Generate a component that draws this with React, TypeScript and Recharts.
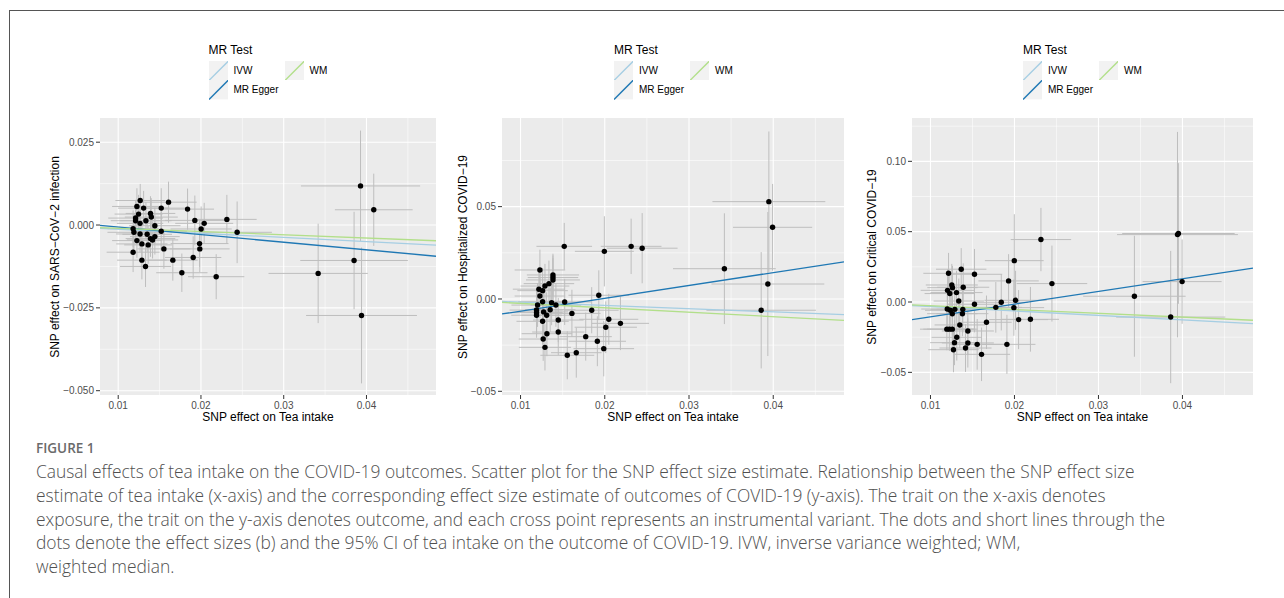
import React from 'react';
import { ScatterChart, Scatter, XAxis, YAxis, CartesianGrid, ErrorBar, ReferenceLine } from 'recharts';

// ---------- DATA ----------
const xTicks = [0.01, 0.02, 0.03, 0.04];
const xTickLabels = ['0.01', '0.02', '0.03', '0.04'];
const xMinor = [0.015, 0.025, 0.035, 0.045];
const xDomain = [0.0078, 0.0484];

// Panel 1: SARS-CoV-2 infection
const p1x = [0.0118, 0.01266, 0.01226, 0.01307, 0.01246, 0.0121, 0.0121, 0.01264, 0.01335, 0.0139, 0.014, 0.01443, 0.0152, 0.01608, 0.01838, 0.01926, 0.02039, 0.02002, 0.01983, 0.01986, 0.01906, 0.02313, 0.02437, 0.02184, 0.01769, 0.0166, 0.01552, 0.0152, 0.0139, 0.01415, 0.01443, 0.01362, 0.0135, 0.01286, 0.01264, 0.01226, 0.0119, 0.0118, 0.01286, 0.0133, 0.03416, 0.03928, 0.04088, 0.0385, 0.0394];
const p1y = [-0.0082, 0.0074, 0.0056, 0.0051, 0.0033, 0.0021, 0.0013, 0.0005, 0.0013, 0.0035, 0.0024, -0.0002, 0.0051, 0.0069, 0.0048, 0.0014, 0.0005, -0.0012, -0.0056, -0.0072, -0.0098, 0.0017, -0.0022, -0.0156, -0.0144, -0.0106, -0.0072, -0.0019, -0.0041, -0.0045, -0.0035, -0.006, -0.0028, -0.0057, -0.0027, -0.0047, -0.0022, -0.0011, -0.0106, -0.0125, -0.0146, 0.0118, 0.0046, -0.0107, -0.0273];
const p1xe = [0.0032, 0.003, 0.003, 0.0031, 0.0029, 0.0033, 0.003, 0.0028, 0.0031, 0.003, 0.0032, 0.0031, 0.0033, 0.0034, 0.0032, 0.0036, 0.0035, 0.0037, 0.0035, 0.0036, 0.0034, 0.0036, 0.0042, 0.0034, 0.0031, 0.003, 0.0032, 0.0031, 0.003, 0.0031, 0.003, 0.0029, 0.003, 0.0031, 0.0029, 0.003, 0.0032, 0.0031, 0.003, 0.0031, 0.006, 0.0072, 0.0047, 0.0065, 0.0067];
const p1ye = [0.006, 0.005, 0.0055, 0.0052, 0.0058, 0.0055, 0.0052, 0.0054, 0.0056, 0.0052, 0.0057, 0.0055, 0.006, 0.0062, 0.0062, 0.0075, 0.0062, 0.0068, 0.007, 0.007, 0.0064, 0.0074, 0.0093, 0.0068, 0.0058, 0.0062, 0.006, 0.0058, 0.0055, 0.0056, 0.0054, 0.0057, 0.0053, 0.0055, 0.0054, 0.0052, 0.0056, 0.0055, 0.0058, 0.0062, 0.015, 0.0167, 0.0109, 0.0147, 0.0205];
const p1Ticks = [-0.05, -0.025, 0, 0.025];
const p1TickLabels = ['\u22120.050', '\u22120.025', '0.000', '0.025'];
const p1Minor = [-0.0375, -0.0125, 0.0125];
const p1Domain = [-0.0513, 0.0323];
const p1Slopes = [-0.125, -0.2296, -0.098]; // IVW, MR Egger, WM
const p1Intercepts = [0, 0.00169, 0];

// Panel 2: Hospitalized COVID-19
const p2x = [0.01519, 0.01995, 0.02313, 0.02444, 0.0123, 0.01385, 0.01385, 0.01385, 0.01337, 0.0129, 0.01218, 0.01262, 0.0123, 0.01262, 0.01202, 0.0119, 0.0119, 0.0119, 0.01274, 0.0131, 0.01262, 0.01352, 0.01369, 0.0142, 0.01524, 0.01448, 0.01448, 0.01313, 0.01269, 0.0129, 0.01555, 0.01662, 0.0161, 0.01774, 0.01845, 0.01912, 0.01929, 0.01988, 0.02012, 0.02048, 0.02186, 0.0342, 0.03948, 0.03992, 0.03936, 0.03857];
const p2y = [0.0285, 0.0258, 0.0285, 0.0275, 0.0157, 0.013, 0.0116, 0.0103, 0.0083, 0.007, 0.0053, 0.0045, 0.0016, -0.0015, -0.0033, -0.006, -0.0074, -0.0088, -0.007, -0.0088, -0.0121, -0.0058, -0.002, -0.0033, -0.0016, -0.0114, -0.0179, -0.0188, -0.0217, -0.0262, -0.0305, -0.0291, -0.0078, -0.0204, -0.0061, -0.0229, 0.002, -0.0269, -0.0153, -0.011, -0.0132, 0.0164, 0.0527, 0.0388, 0.0081, -0.0061];
const p2xe = [0.0033, 0.0035, 0.0036, 0.0042, 0.003, 0.0031, 0.003, 0.0032, 0.003, 0.0029, 0.0031, 0.003, 0.003, 0.0029, 0.0031, 0.0032, 0.0031, 0.003, 0.0029, 0.003, 0.0031, 0.003, 0.0031, 0.003, 0.0032, 0.003, 0.0031, 0.003, 0.0029, 0.0031, 0.0032, 0.003, 0.0034, 0.0031, 0.0032, 0.0034, 0.0036, 0.0036, 0.0037, 0.0035, 0.0034, 0.0061, 0.0067, 0.0047, 0.0067, 0.0065];
const p2ye = [0.0127, 0.019, 0.015, 0.019, 0.011, 0.0115, 0.012, 0.0118, 0.0125, 0.012, 0.0118, 0.0122, 0.012, 0.0125, 0.0118, 0.012, 0.0125, 0.0122, 0.0118, 0.0124, 0.0126, 0.012, 0.0122, 0.0118, 0.0125, 0.012, 0.0125, 0.0122, 0.0118, 0.0125, 0.013, 0.0135, 0.0128, 0.013, 0.0125, 0.0135, 0.0135, 0.015, 0.014, 0.0138, 0.0145, 0.03, 0.038, 0.0235, 0.039, 0.0315];
const p2Ticks = [-0.05, 0, 0.05];
const p2TickLabels = ['\u22120.05', '0.00', '0.05'];
const p2Minor = [-0.025, 0.025, 0.075];
const p2Domain = [-0.052, 0.098];
const p2Slopes = [-0.175, 0.695, -0.239];
const p2Intercepts = [0, -0.01353, 0];

// Panel 3: Critical COVID-19
const p3x = [0.02315, 0.01998, 0.0193, 0.02446, 0.02013, 0.01843, 0.01993, 0.01778, 0.02049, 0.0219, 0.01667, 0.0191, 0.01608, 0.01524, 0.01524, 0.01366, 0.0139, 0.01215, 0.01254, 0.01262, 0.01203, 0.0123, 0.0131, 0.01337, 0.012, 0.01235, 0.0129, 0.01385, 0.0126, 0.0138, 0.01349, 0.01195, 0.01225, 0.0126, 0.01445, 0.01313, 0.01286, 0.01445, 0.01556, 0.01274, 0.01417, 0.03428, 0.03941, 0.03952, 0.03996, 0.0386];
const p3y = [0.0444, 0.0294, 0.015, 0.0131, 0.0012, -0.0002, -0.004, -0.0038, -0.0125, -0.0123, -0.0144, -0.0301, -0.0372, 0.0197, -0.0016, 0.0233, 0.0105, 0.0204, 0.0121, 0.0102, 0.0083, 0.006, 0.0067, 0.0007, -0.005, -0.0059, -0.0052, -0.0052, -0.0083, -0.0083, -0.0163, -0.0193, -0.0193, -0.0193, -0.0206, -0.0251, -0.0289, -0.0291, -0.0301, -0.0339, -0.0327, 0.0041, 0.0479, 0.0487, 0.0145, -0.0107];
const p3xe = [0.0036, 0.0035, 0.0036, 0.0042, 0.0037, 0.0032, 0.0036, 0.0031, 0.0035, 0.0034, 0.003, 0.0034, 0.0034, 0.0033, 0.0032, 0.003, 0.0031, 0.003, 0.0031, 0.003, 0.0032, 0.003, 0.0031, 0.003, 0.0031, 0.003, 0.0029, 0.0031, 0.003, 0.0031, 0.003, 0.0032, 0.0031, 0.003, 0.0031, 0.003, 0.0029, 0.0031, 0.0032, 0.003, 0.0031, 0.0061, 0.0072, 0.0067, 0.0047, 0.0065];
const p3ye = [0.0225, 0.033, 0.019, 0.027, 0.021, 0.02, 0.02, 0.018, 0.021, 0.023, 0.019, 0.021, 0.019, 0.018, 0.02, 0.015, 0.017, 0.0145, 0.015, 0.0155, 0.015, 0.016, 0.0155, 0.016, 0.015, 0.0155, 0.016, 0.0165, 0.0155, 0.016, 0.0165, 0.015, 0.0155, 0.016, 0.017, 0.0165, 0.016, 0.0175, 0.018, 0.016, 0.017, 0.043, 0.073, 0.05, 0.03, 0.047];
const p3Ticks = [-0.05, 0, 0.05, 0.1];
const p3TickLabels = ['\u22120.05', '0.00', '0.05', '0.10'];
const p3Minor = [-0.025, 0.025, 0.075, 0.125];
const p3Domain = [-0.0661, 0.1308];
const p3Slopes = [-0.317, 0.903, -0.268];
const p3Intercepts = [0, -0.01956, 0];

const methods = ['IVW', 'MR Egger', 'WM'];
const methodColors = ['#A6CEE3', '#1F78B4', '#B2DF8A'];

const yTitles = [
  'SNP effect on SARS\u2212CoV\u22122 infection',
  'SNP effect on Hospitalized COVID\u221219',
  'SNP effect on Critical COVID\u221219',
];
const xTitle = 'SNP effect on Tea intake';

const captionHead = 'FIGURE 1';
const captionLines = [
  'Causal effects of tea intake on the COVID-19 outcomes. Scatter plot for the SNP effect size estimate. Relationship between the SNP effect size',
  'estimate of tea intake (x-axis) and the corresponding effect size estimate of outcomes of COVID-19 (y-axis). The trait on the x-axis denotes',
  'exposure, the trait on the y-axis denotes outcome, and each cross point represents an instrumental variant. The dots and short lines through the',
  'dots denote the effect sizes (b) and the 95% CI of tea intake on the outcome of COVID-19. IVW, inverse variance weighted; WM,',
  'weighted median.',
];

// ---------- LAYOUT ----------
const FONT = '"Liberation Sans", Arial, Helvetica, sans-serif';
const PLOT_TOP = 118;
const PLOT_BOTTOM = 395;
const Y_W = 60;
const X_H = 30;

const panels = [
  { left: 100, right: 436, x: p1x, y: p1y, xe: p1xe, ye: p1ye, ticks: p1Ticks, labels: p1TickLabels, minor: p1Minor, domain: p1Domain, slopes: p1Slopes, ints: p1Intercepts, yTitleX: 55, legendX: 208.5 },
  { left: 502, right: 844, x: p2x, y: p2y, xe: p2xe, ye: p2ye, ticks: p2Ticks, labels: p2TickLabels, minor: p2Minor, domain: p2Domain, slopes: p2Slopes, ints: p2Intercepts, yTitleX: 463, legendX: 614 },
  { left: 912, right: 1253, x: p3x, y: p3y, xe: p3xe, ye: p3ye, ticks: p3Ticks, labels: p3TickLabels, minor: p3Minor, domain: p3Domain, slopes: p3Slopes, ints: p3Intercepts, yTitleX: 872, legendX: 1023 },
];

const Dot = (props: any) => <circle cx={props.cx} cy={props.cy} r={2.7} fill="#000" />;

function Panel({ p, idx }: { p: any; idx: number }) {
  const plotW = p.right - p.left;
  const plotH = PLOT_BOTTOM - PLOT_TOP;
  const data = p.x.map((xv: number, i: number) => ({ x: xv, y: p.y[i], xe: p.xe[i], ye: p.ye[i] }));
  const fmtY = (v: number) => {
    const k = p.ticks.findIndex((t: number) => Math.abs(t - v) < 1e-9);
    return k >= 0 ? p.labels[k] : String(v);
  };
  const fmtX = (v: number) => {
    const k = xTicks.findIndex((t) => Math.abs(t - v) < 1e-9);
    return k >= 0 ? xTickLabels[k] : String(v);
  };
  const cx = (p.left + p.right) / 2;
  const cy = (PLOT_TOP + PLOT_BOTTOM) / 2;
  const L = p.legendX;
  const box = 19.4;
  return (
    <>
      <div style={{ position: 'absolute', left: p.left - Y_W, top: PLOT_TOP }}>
        <ScatterChart width={Y_W + plotW} height={plotH + X_H} margin={{ top: 0, right: 0, bottom: 0, left: 0 }}>
          <CartesianGrid fill="#EBEBEB" stroke="#FFFFFF" strokeWidth={0.55} horizontalValues={p.minor} verticalValues={xMinor} />
          <CartesianGrid stroke="#FFFFFF" strokeWidth={1.1} horizontalValues={p.ticks} verticalValues={xTicks} />
          <XAxis
            type="number"
            dataKey="x"
            domain={xDomain}
            allowDataOverflow
            ticks={xTicks}
            interval={0}
            tickFormatter={fmtX}
            axisLine={false}
            tickSize={4}
            tickMargin={3}
            tickLine={{ stroke: '#333333' }}
            tick={{ fontSize: 10, fill: '#4D4D4D', fontFamily: FONT }}
            height={X_H}
          />
          <YAxis
            type="number"
            dataKey="y"
            domain={p.domain}
            allowDataOverflow
            ticks={p.ticks}
            interval={0}
            tickFormatter={fmtY}
            axisLine={false}
            tickSize={4}
            tickMargin={2}
            tickLine={{ stroke: '#333333' }}
            tick={{ fontSize: 10, fill: '#4D4D4D', fontFamily: FONT }}
            width={Y_W}
          />
          <Scatter data={data} shape={Dot} isAnimationActive={false}>
            <ErrorBar dataKey="xe" direction="x" width={0} stroke="#BEBEBE" strokeWidth={1} isAnimationActive={false} />
            <ErrorBar dataKey="ye" direction="y" width={0} stroke="#BEBEBE" strokeWidth={1} isAnimationActive={false} />
          </Scatter>
          {methods.map((m, k) => (
            <ReferenceLine
              key={m}
              ifOverflow="hidden"
              stroke={methodColors[k]}
              strokeWidth={1.3}
              segment={[
                { x: xDomain[0], y: p.ints[k] + p.slopes[k] * xDomain[0] },
                { x: xDomain[1], y: p.ints[k] + p.slopes[k] * xDomain[1] },
              ]}
            />
          ))}
        </ScatterChart>
      </div>
      {/* x title */}
      <div style={{ position: 'absolute', left: cx, top: 417, width: 0, height: 0 }}>
        <div style={{ position: 'absolute', transform: 'translate(-50%,-50%)', whiteSpace: 'nowrap', fontFamily: FONT, fontSize: 12, color: '#000' }}>{xTitle}</div>
      </div>
      {/* y title */}
      <div style={{ position: 'absolute', left: p.yTitleX, top: cy, width: 0, height: 0 }}>
        <div style={{ position: 'absolute', transform: 'translate(-50%,-50%) rotate(-90deg)', whiteSpace: 'nowrap', fontFamily: FONT, fontSize: 12, color: '#000' }}>{yTitles[idx]}</div>
      </div>
      {/* legend */}
      <div style={{ position: 'absolute', left: L, top: 42, fontFamily: FONT, fontSize: 12, color: '#000', whiteSpace: 'nowrap', lineHeight: '16px' }}>MR Test</div>
      {[
        { k: 0, bx: 0, by: 61 },
        { k: 1, bx: 0, by: 80.4 },
        { k: 2, bx: 76, by: 61 },
      ].map(({ k, bx, by }) => (
        <React.Fragment key={k}>
          <svg style={{ position: 'absolute', left: L + bx, top: by }} width={box} height={box}>
            <rect x={0} y={0} width={box} height={box} fill="#F2F2F2" />
            <line x1={0} y1={box} x2={box} y2={0} stroke={methodColors[k]} strokeWidth={1.4} />
          </svg>
          <div style={{ position: 'absolute', left: L + bx + 25, top: by + box / 2 - 7, fontFamily: FONT, fontSize: 10, lineHeight: '14px', color: '#000', whiteSpace: 'nowrap' }}>{methods[k]}</div>
        </React.Fragment>
      ))}
    </>
  );
}

export default function App() {
  return (
    <div style={{ position: 'absolute', left: 0, top: 0, width: 1284, height: 598, background: '#fff', overflow: 'hidden' }}>
      <div style={{ position: 'absolute', left: 9, top: 10, width: 1400, height: 700, borderTop: '1.5px solid #555', borderLeft: '1.5px solid #555' }} />
      {panels.map((p, i) => (
        <Panel key={i} p={p} idx={i} />
      ))}
      <div style={{ position: 'absolute', left: 36, top: 440, fontFamily: '"Open Sans", sans-serif', fontWeight: 600, fontSize: 13.5, color: '#6a6a6a', whiteSpace: 'nowrap', lineHeight: '17px' }}>{captionHead}</div>
      {captionLines.map((t, i) => (
        <div key={i} style={{ position: 'absolute', left: 36, top: 460 + i * 23.75, fontFamily: '"Open Sans", sans-serif', fontWeight: 300, fontSize: 17.4, color: '#505050', whiteSpace: 'nowrap', lineHeight: '23px' }}>{t}</div>
      ))}
    </div>
  );
}
